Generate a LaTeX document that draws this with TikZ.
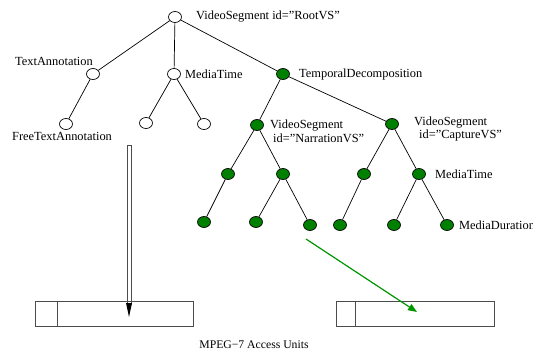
\documentclass[tikz,border=0pt]{standalone}
\usepackage{fontspec}
\setmainfont{Liberation Serif}
\usetikzlibrary{arrows.meta,shapes.geometric,calc}
\definecolor{nodegreen}{RGB}{0,128,0}
\definecolor{arrowgreen}{RGB}{0,150,0}
\newcommand{\sq}{\symbol{34}}
\begin{document}
\begin{tikzpicture}[x=1pt,y=-1pt,
  wnode/.style={draw=black,fill=white,ellipse,minimum width=13pt,minimum height=11pt,inner sep=0pt,line width=0.7pt},
  gnode/.style={draw=black,fill=nodegreen,ellipse,minimum width=13pt,minimum height=11pt,inner sep=0pt,line width=0.7pt},
  lbl/.style={font=\fontsize{12.4}{14}\selectfont,inner sep=0pt},
  edge/.style={draw=black,line width=0.7pt},
  unitbox/.style={draw=black!70,line width=0.8pt}]
\useasboundingbox (0,0) rectangle (533,351);
% nodes
\node[wnode] (root) at (175,17) {};
\node[wnode] (ta) at (93,74) {};
\node[wnode] (mt) at (174,74) {};
\node[gnode] (td) at (283,74) {};
\node[wnode] (fta) at (66,124) {};
\node[wnode] (mt1) at (146,123) {};
\node[wnode] (mt2) at (204,124) {};
\node[gnode] (nvs) at (257,125) {};
\node[gnode] (cvs) at (392,124) {};
\node[gnode] (n1) at (228,174) {};
\node[gnode] (n2) at (283,174) {};
\node[gnode] (c1) at (364,174) {};
\node[gnode] (c2) at (419,174) {};
\node[gnode] (n11) at (204,222) {};
\node[gnode] (n21) at (256,222) {};
\node[gnode] (n22) at (310,225) {};
\node[gnode] (c11) at (340,225) {};
\node[gnode] (c21) at (394,225) {};
\node[gnode] (c22) at (447,225) {};
% edges
\draw[edge] (root) -- (ta);
\draw[edge] (root) -- (mt);
\draw[edge] (root) -- (td);
\draw[edge] (ta) -- (fta);
\draw[edge] (mt) -- (mt1);
\draw[edge] (mt) -- (mt2);
\draw[edge] (td) -- (nvs);
\draw[edge] (td) -- (cvs);
\draw[edge] (nvs) -- (n1);
\draw[edge] (nvs) -- (n2);
\draw[edge] (n1) -- (n11);
\draw[edge] (n2) -- (n21);
\draw[edge] (n2) -- (n22);
\draw[edge] (cvs) -- (c1);
\draw[edge] (cvs) -- (c2);
\draw[edge] (c1) -- (c11);
\draw[edge] (c2) -- (c21);
\draw[edge] (c2) -- (c22);
% labels
\node[lbl,anchor=west] (lroot) at (196,17) {VideoSegment id=\sq RootVS\sq};
\node[lbl,anchor=east] (lta) at (93,61) {TextAnnotation};
\node[lbl,anchor=west] (lmt) at (185,74) {MediaTime};
\node[lbl,anchor=west] (ltd) at (299,75) {TemporalDecomposition};
\node[lbl,anchor=west] (lfta) at (12,136) {FreeTextAnnotation};
\node[lbl,anchor=west] (lnvs1) at (270,126) {VideoSegment};
\node[lbl,anchor=west] (lnvs2) at (273,138) {id=\sq NarrationVS\sq};
\node[lbl,anchor=west] (lcvs1) at (414,123) {VideoSegment};
\node[lbl,anchor=west] (lcvs2) at (419,136) {id=\sq CaptureVS\sq};
\node[lbl,anchor=west] (lmt2) at (435,174) {MediaTime};
\node[lbl,anchor=west] (lmd) at (459,225) {MediaDuration};
% access units
\draw[unitbox] (35,301) rectangle (193,326);
\draw[unitbox] (57,301) -- (57,326);
\draw[unitbox] (336,301) rectangle (494,326);
\draw[unitbox] (355,301) -- (355,326);
\coordinate (da1) at (129,145);
\coordinate (da2) at (129,317);
\coordinate (ga1) at (306,239);
\coordinate (ga2) at (417,312);
\draw[black!70,line width=0.8pt] ($(da1)+(-2,0)$) -- ($(da2)+(-2,-12)$);
\draw[black!70,line width=0.8pt] ($(da1)+(2,0)$) -- ($(da2)+(2,-12)$);
\draw[black!70,line width=0.8pt] ($(da1)+(-2,0)$) -- ($(da1)+(2,0)$);
\fill[black] (da2) -- ($(da2)+(-3,-14)$) -- ($(da2)+(3,-14)$) -- cycle;
\draw[arrowgreen,line width=1.2pt,-{Triangle[length=9pt,width=7pt]}] (ga1) -- (ga2);
\node[inner sep=0pt,font=\fontsize{11.7}{13}\selectfont] (cap) at (254,345) {MPEG−7 Access Units};
\end{tikzpicture}
\end{document}
